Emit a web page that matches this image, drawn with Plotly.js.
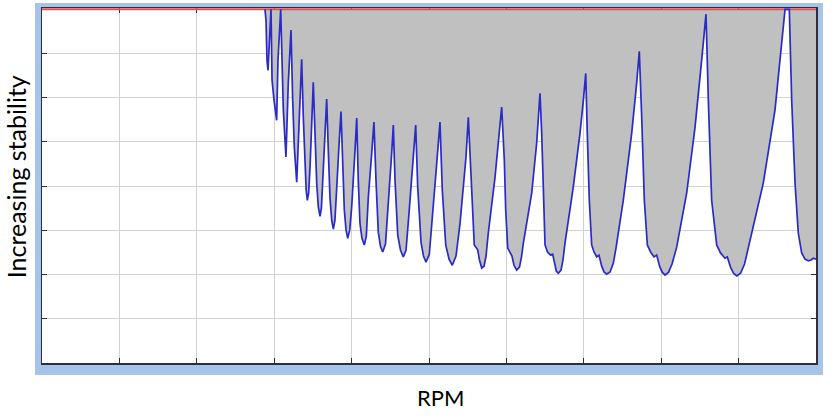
<!DOCTYPE html>
<html>
<head>
<meta charset="utf-8">
<script src="https://cdn.plot.ly/plotly-3.0.1.min.js"></script>
<style>
  body { margin: 0; background: #fff; }
  #lobes { width: 838px; height: 419px; }
</style>
</head>
<body>
<div id="lobes"></div>
<script>
// stability lobes (rpm / depth of cut)
var narrowRpm = [
  2881, 2894, 2907, 2920, 2959,
  2972, 2998, 3032, 3049, 3084,
  3118, 3152, 3182, 3204, 3217,
  3239, 3260, 3291, 3311, 3342, 3355,
  3376, 3398, 3413, 3428, 3445, 3463, 3492, 3505,
  3527, 3549, 3570, 3592, 3610, 3627, 3656, 3678,
  3699, 3721, 3743, 3764, 3785, 3807, 3841, 3863,
  3880, 3906, 3928, 3950, 3976, 4001, 4044, 4066,
  4086, 4108, 4134, 4164, 4190, 4216, 4260, 4289,
  4315, 4345, 4373, 4402, 4438, 4474, 4518, 4539,
  4561, 4596, 4632, 4668, 4703, 4742, 4797, 4828,
  4854, 4897, 4929, 4961, 5004, 5043, 5100, 5142,
  5172, 5216, 5259, 5301, 5349, 5401, 5478, 5508
];
var narrowDepth = [
  8.0, 7.75, 6.85, 6.62, 8.0,
  6.40, 5.94, 5.49, 6.85, 8.0,
  5.72, 4.66, 6.33, 7.30, 7.53,
  5.94, 4.88, 4.09, 4.97, 6.33, 6.87,
  5.56, 4.47, 3.91, 3.68, 3.84, 4.43, 5.72, 6.35,
  5.20, 4.07, 3.53, 3.32, 3.50, 4.07, 5.20, 5.97,
  4.81, 3.73, 3.23, 3.03, 3.23, 3.84, 5.04, 5.69,
  4.59, 3.46, 3.01, 2.82, 3.01, 3.53, 4.81, 5.54,
  4.14, 3.16, 2.82, 2.67, 2.87, 3.75, 4.75, 5.45,
  4.14, 2.96, 2.64, 2.51, 2.69, 3.53, 4.75, 5.38,
  4.14, 2.89, 2.55, 2.40, 2.55, 3.39, 4.66, 5.38,
  3.98, 2.73, 2.42, 2.28, 2.46, 3.23, 4.52, 5.45,
  3.91, 2.67, 2.35, 2.21, 2.42, 3.16, 4.66, 5.56
];
var wideRpm = [
  5552, 5585, 5629, 5652, 5681, 5711, 5737, 5766, 5853, 5917, 5939,
  5973, 5991, 6017, 6046, 6072, 6098, 6133, 6169, 6195, 6219, 6327, 6391, 6421, 6434,
  6456, 6477, 6499, 6531, 6572, 6598, 6621, 6645, 6671, 6706, 6731, 6757, 6864, 6951, 6994, 7025,
  7045, 7071, 7102, 7132, 7167, 7196, 7231, 7261, 7296, 7339, 7382, 7416, 7510, 7619, 7683, 7717,
  7748, 7782, 7821, 7863, 7907, 7942, 7979, 8011, 8049, 8094, 8140, 8200, 8329, 8437, 8523, 8579,
  8609, 8652, 8717, 8766, 8824, 8854, 8896, 8934, 8976, 9025, 9077, 9147, 9319, 9470, 9557, 9600, 9655,
  9686, 9729, 9771, 9815, 9858, 9901, 9936, 9965, 10000
];
var wideDepth = [
  3.68, 2.67, 2.56, 2.33, 2.15, 2.19, 2.42, 2.94, 4.20, 5.33, 5.79,
  4.59, 3.46, 2.60, 2.51, 2.42, 2.21, 2.10, 2.17, 2.40, 2.71, 3.84, 4.97, 5.72, 6.10,
  5.20, 3.68, 2.67, 2.51, 2.44, 2.46, 2.24, 2.08, 2.03, 2.10, 2.33, 2.71, 3.98, 5.20, 5.94, 6.55,
  5.20, 3.68, 2.67, 2.51, 2.40, 2.44, 2.19, 2.06, 2.01, 2.06, 2.26, 2.60, 3.68, 5.20, 6.33, 7.05,
  5.56, 3.68, 2.67, 2.51, 2.40, 2.44, 2.19, 2.06, 1.99, 2.05, 2.24, 2.62, 3.84, 5.33, 6.85, 7.89,
  5.94, 3.68, 2.67, 2.49, 2.37, 2.40, 2.17, 2.03, 1.97, 2.03, 2.24, 2.78, 4.07, 5.72, 7.23, 8.0, 8.0,
  5.94, 4.07, 2.94, 2.49, 2.35, 2.31, 2.33, 2.37, 2.35
];
var limitRpm = [0, 10000];
var limitDepth = [8, 8];

var frameBlue = '#a6c4e8';
var dark = '#2e2e3e';

var data = [{
  x: limitRpm,
  y: limitDepth,
  mode: 'lines',
  line: { color: '#dc5252', width: 2 },
  hoverinfo: 'skip'
}, {
  x: narrowRpm.concat(wideRpm),
  y: narrowDepth.concat(wideDepth),
  mode: 'lines',
  fill: 'tonexty',
  fillcolor: '#c0c0c0',
  line: { color: '#2a2ac4', width: 1.7 }
}];

var axisStyle = {
  showticklabels: false,
  ticks: 'inside',
  ticklen: 5,
  tickwidth: 1,
  tickcolor: dark,
  showgrid: true,
  gridcolor: '#d2d2d2',
  gridwidth: 1,
  zeroline: false,
  showline: true,
  linecolor: dark,
  linewidth: 1.5,
  mirror: 'ticks',
  layer: 'below traces',
  fixedrange: true
};

var layout = {
  width: 838,
  height: 419,
  showlegend: false,
  paper_bgcolor: '#ffffff',
  plot_bgcolor: '#ffffff',
  margin: { l: 42, r: 22, t: 8, b: 56 },
  xaxis: Object.assign({}, axisStyle, { range: [0, 10000], tick0: 0, dtick: 1000 }),
  yaxis: Object.assign({}, axisStyle, { range: [0, 8.03], tick0: 0, dtick: 1 }),
  shapes: [
    { type: 'rect', xref: 'paper', yref: 'paper', x0: -0.009, x1: 1.009, y0: -0.034, y1: 1.014,
      fillcolor: frameBlue, line: { width: 0 }, layer: 'below' },
    { type: 'rect', xref: 'paper', yref: 'paper', x0: 0, x1: 1, y0: 0, y1: 1,
      fillcolor: '#ffffff', line: { width: 0 }, layer: 'below' }
  ],
  annotations: [
    { text: 'Increasing stability', xref: 'paper', yref: 'paper', x: -0.034, y: 0.525,
      textangle: -90, showarrow: false, xanchor: 'center', yanchor: 'middle',
      font: { family: 'Lato, "Open Sans", sans-serif', size: 25, color: '#000' } },
    { text: 'RPM', xref: 'paper', yref: 'paper', x: 0.515, y: -0.096,
      showarrow: false, xanchor: 'center', yanchor: 'middle',
      font: { family: 'Lato, "Open Sans", sans-serif', size: 22, color: '#000' } }
  ]
};

Plotly.newPlot('lobes', data, layout, { displayModeBar: false, staticPlot: true });
</script>
</body>
</html>
